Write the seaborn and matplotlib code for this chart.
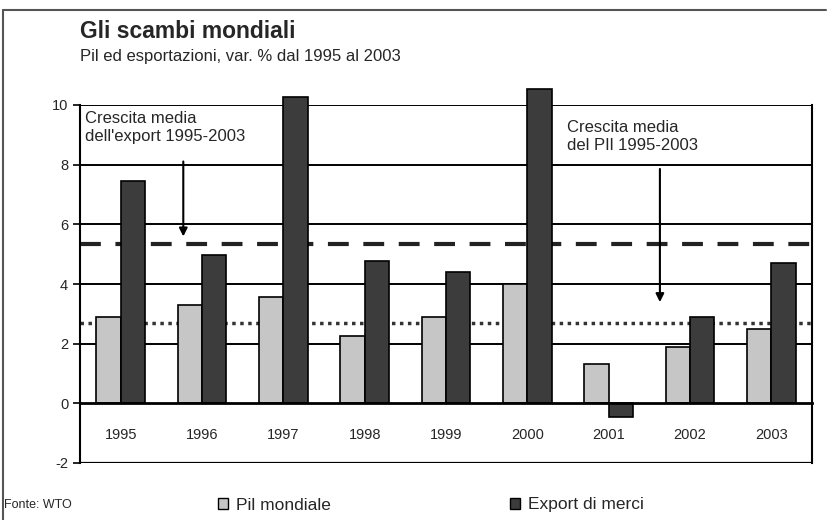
import pandas as pd
import matplotlib.pyplot as plt
import seaborn as sns
import numpy as np

# valori (var. %)
anni = ['1995', '1996', '1997', '1998', '1999', '2000', '2001', '2002', '2003']
pil = [2.9, 3.3, 3.55, 2.25, 2.9, 4.0, 1.33, 1.9, 2.5]
export = [7.45, 4.97, 10.27, 4.76, 4.4, 10.55, -0.45, 2.9, 4.7]
media_export = 5.35
media_pil = 2.68
serie = ['Pil mondiale', 'Export di merci']
colori = {'Pil mondiale': '#c6c6c6', 'Export di merci': '#3c3c3c'}

df = pd.DataFrame({'anno': anni * 2,
                   'serie': [serie[0]] * len(anni) + [serie[1]] * len(anni),
                   'valore': pil + export})

sns.set_style('white')
plt.rcParams['font.family'] = ['Liberation Sans', 'DejaVu Sans']

fig = plt.figure(figsize=(8.39, 5.2), dpi=100)
ax = fig.add_axes([80 / 839, 1 - 463 / 520, 732 / 839, 358 / 520])

sns.barplot(data=df, x='anno', y='valore', hue='serie', palette=colori,
            width=0.6, edgecolor='black', linewidth=1.2, saturation=1,
            ax=ax, zorder=3)
for p in ax.patches:
    p.set_clip_on(False)
ax.get_legend().remove()

ax.set_ylim(-2, 10)
ax.set_xlim(-0.5, len(anni) - 0.5)
ax.set_yticks([-2, 0, 2, 4, 6, 8, 10])
ax.set_yticklabels(['-2', '0', '2', '4', '6', '8', '10'], fontsize=10.5)
ax.set_xlabel('')
ax.set_ylabel('')

# griglia
for v in [2, 4, 6, 8, 10]:
    ax.axhline(v, color='black', lw=1.4, zorder=1)
ax.axhline(-2, color='black', lw=1.6, zorder=1)
ax.axhline(media_export, color='#222222', lw=3, ls=(0, (5, 3.5)), zorder=2)
ax.axhline(media_pil, color='#333333', lw=2.5, ls=(0, (1, 1.3)), zorder=2)

for s in ['left', 'right']:
    ax.spines[s].set_color('black')
    ax.spines[s].set_linewidth(1.5)
ax.spines['top'].set_visible(False)
ax.spines['bottom'].set_position(('data', 0))
ax.spines['bottom'].set_linewidth(2)
ax.spines['bottom'].set_color('black')
ax.spines['bottom'].set_zorder(4)

ax.tick_params(axis='x', which='major', length=0, pad=18, labelsize=10.5)
ax.set_xticks(np.arange(len(anni)) + 0.5, minor=True)
ax.tick_params(axis='x', which='minor', length=5, width=1, direction='out', color='black')
ax.tick_params(axis='y', length=5, width=1.2, direction='out', color='black', left=True)

# annotazioni
ax.text(-0.44, 9.8, "Crescita media\ndell'export 1995-2003", fontsize=12,
        va='top', ha='left', linespacing=1.25, zorder=5)
ax.annotate('', xy=(0.77, media_export + 0.15), xytext=(0.77, 8.2),
            arrowprops=dict(arrowstyle='-|>', color='black', lw=1.5,
                            mutation_scale=12), zorder=5)
ax.text(5.49, 9.5, "Crescita media\ndel PIl 1995-2003", fontsize=12,
        va='top', ha='left', linespacing=1.25, zorder=5)
ax.annotate('', xy=(6.63, 3.3), xytext=(6.63, 7.95),
            arrowprops=dict(arrowstyle='-|>', color='black', lw=1.5,
                            mutation_scale=12), zorder=5)

# titoli
fig.text(80 / 839, 1 - 32 / 520, 'Gli scambi mondiali', fontsize=16.5,
         fontweight='bold', va='center', ha='left')
fig.text(80 / 839, 1 - 57 / 520, 'Pil ed esportazioni, var. % dal 1995 al 2003',
         fontsize=12, va='center', ha='left')
fig.text(4 / 839, 1 - 505 / 520, 'Fonte: WTO', fontsize=9, va='center', ha='left')

h = [plt.Rectangle((0, 0), 1, 1, facecolor=colori[s], edgecolor='black', lw=1) for s in serie]
fig.legend(h, serie, loc='center left', bbox_to_anchor=(218 / 839, 1 - 505 / 520),
           ncol=2, frameon=False, fontsize=12.5, handlelength=0.6, handleheight=0.6,
           handletextpad=0.45, columnspacing=10.3, borderaxespad=0, borderpad=0)

# cornice esterna
fig.add_artist(plt.Line2D([3 / 839, 3 / 839], [0, 1 - 10 / 520], color='#555555', lw=1.5))
fig.add_artist(plt.Line2D([3 / 839, 826 / 839], [1 - 10 / 520, 1 - 10 / 520], color='#555555', lw=1.5))

plt.savefig('out.png', dpi=100)
